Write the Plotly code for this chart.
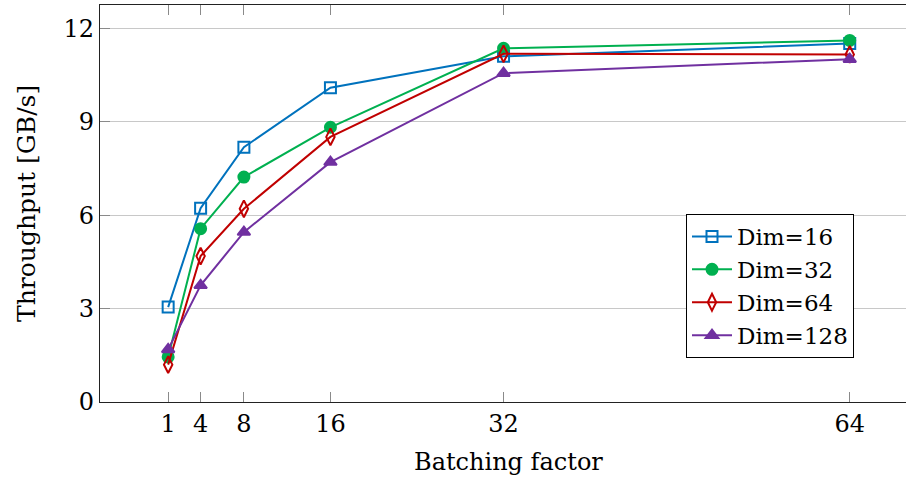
import plotly.graph_objects as go

batching = [1, 4, 8, 16, 32, 64]
dim16 = [3.05, 6.23, 8.19, 10.10, 11.11, 11.52]
dim32 = [1.45, 5.57, 7.23, 8.83, 11.37, 11.62]
dim64 = [1.20, 4.69, 6.21, 8.52, 11.19, 11.17]
dim128 = [1.69, 3.75, 5.46, 7.71, 10.57, 11.02]
x_ticks = [1, 4, 8, 16, 32, 64]
y_ticks = [0, 3, 6, 9, 12]

FONT = "DejaVu Serif, Liberation Serif, serif"
W, H = 906, 477
ML, MR, MT, MB = 100, 0, 5, 75

series = [
    ("Dim=16", dim16, "#0072BD", "square-open", 11),
    ("Dim=32", dim32, "#00B050", "circle", 11),
    ("Dim=64", dim64, "#C00000", "diamond-tall-open", 12),
    ("Dim=128", dim128, "#7030A0", "triangle-up", 11),
]

fig = go.Figure()
for name, ys, color, sym, size in series:
    fig.add_trace(go.Scatter(
        x=batching, y=ys, name=name, mode="lines+markers",
        line=dict(color=color, width=2),
        marker=dict(symbol=sym, size=size, color=color,
                    line=dict(color=color, width=2)),
    ))

fig.update_layout(
    width=W, height=H,
    margin=dict(l=ML, r=MR, t=MT, b=MB),
    paper_bgcolor="white", plot_bgcolor="white",
    font=dict(family=FONT, size=24, color="black"),
    showlegend=True,
    legend=dict(
        x=(686 - ML) / (W - ML - MR), y=(402 - 214) / (H - MT - MB),
        xanchor="left", yanchor="top",
        bgcolor="white", bordercolor="black", borderwidth=1,
        font=dict(family=FONT, size=23),
        tracegroupgap=0, itemwidth=40,
    ),
    xaxis=dict(
        range=[-5.3, 64 + (W - MR - 849.7) / 10.825],
        tickmode="array", tickvals=x_ticks, ticktext=[str(v) for v in x_ticks],
        ticks="inside", ticklen=10, tickwidth=1.2, tickcolor="#8a8a8a",
        showline=True, linecolor="#222", linewidth=1.3, mirror="ticks",
        showgrid=False, zeroline=False,
        tickfont=dict(family=FONT, size=24),
    ),
    yaxis=dict(
        range=[0, 12.76],
        tickmode="array", tickvals=y_ticks, ticktext=[str(v) for v in y_ticks],
        ticks="inside", ticklen=10, tickwidth=1.2, tickcolor="#8a8a8a",
        showline=True, linecolor="#222", linewidth=1.3, mirror=False,
        showgrid=True, gridcolor="#c8c8c8", gridwidth=1,
        zeroline=False,
        tickfont=dict(family=FONT, size=24),
    ),
    annotations=[
        dict(text="Batching factor", xref="paper", yref="paper",
             x=(508 - ML) / (W - ML - MR), y=-(462 - 402) / (H - MT - MB),
             xanchor="center", yanchor="middle", showarrow=False,
             font=dict(family=FONT, size=24)),
        dict(text="Throughput [GB/s]", xref="paper", yref="paper",
             x=-(ML - 27) / (W - ML - MR), y=(402 - 204) / (H - MT - MB),
             xanchor="center", yanchor="middle", showarrow=False, textangle=-90,
             font=dict(family=FONT, size=25)),
    ],
)

fig.write_html("out.html", config={"displayModeBar": False},
               post_script="document.body.style.margin='0';")
